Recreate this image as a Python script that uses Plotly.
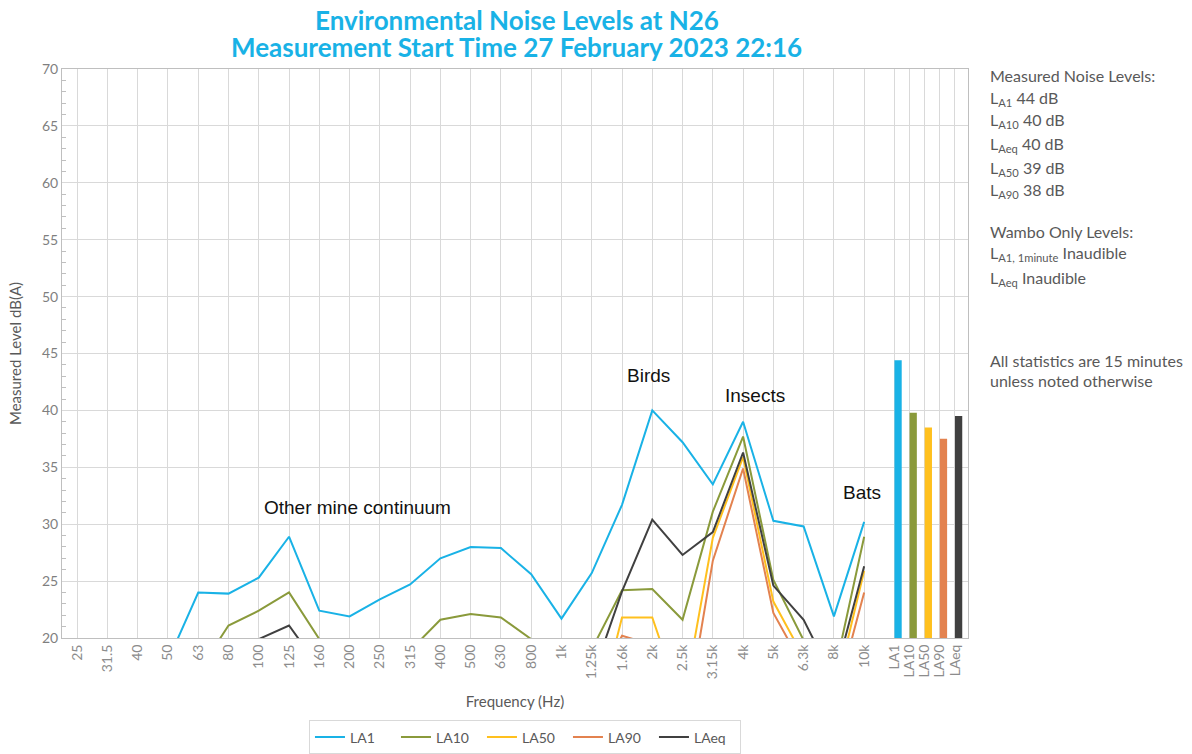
import plotly.graph_objects as go

# frequency bands (1/3 octave) and the overall statistics shown as bars
freq_labels = ["25", "31.5", "40", "50", "63", "80", "100", "125", "160", "200",
               "250", "315", "400", "500", "630", "800", "1k", "1.25k", "1.6k",
               "2k", "2.5k", "3.15k", "4k", "5k", "6.3k", "8k", "10k"]
stat_labels = ["LA1", "LA10", "LA50", "LA90", "LAeq"]

la1 = [15.0, 15.5, 16.0, 18.0, 24.0, 23.9, 25.3, 28.9, 22.4, 21.9, 23.4, 24.7, 27.0,
       28.0, 27.9, 25.6, 21.7, 25.7, 31.7, 40.0, 37.2, 33.5, 39.0, 30.3, 29.8, 21.9, 30.2]
la10 = [12.0, 12.0, 13.0, 14.0, 17.0, 21.1, 22.4, 24.0, 19.9, 16.0, 15.0, 18.9, 21.6,
        22.1, 21.8, 19.9, 16.0, 19.0, 24.2, 24.3, 21.6, 31.1, 37.7, 25.1, 19.8, 16.7, 28.9]
la50 = [10.0, 10.0, 11.0, 12.0, 13.0, 15.0, 16.0, 17.0, 14.0, 12.0, 12.0, 13.0, 15.0,
        16.0, 15.0, 14.0, 11.0, 11.2, 21.8, 21.8, 14.0, 28.8, 35.9, 23.2, 18.3, 14.8, 25.9]
la90 = [9.0, 9.0, 10.0, 11.0, 12.0, 13.0, 14.0, 15.0, 12.0, 11.0, 11.0, 12.0, 13.0,
        14.0, 13.0, 12.0, 10.0, 15.0, 20.2, 19.4, 11.0, 26.8, 34.9, 22.2, 17.4, 14.0, 24.0]
laeq = [13.0, 13.5, 14.0, 15.0, 16.0, 17.0, 19.9, 21.1, 17.4, 16.0, 16.0, 17.0, 18.0,
        18.5, 18.0, 17.0, 15.0, 16.4, 24.1, 30.4, 27.3, 29.3, 36.3, 24.6, 21.6, 16.3, 26.3]
stat_values = [44.4, 39.8, 38.5, 37.5, 39.5]

colors = ["#19b2e6", "#8a9a3b", "#ffc01e", "#e3824f", "#404040"]
series = [la1, la10, la50, la90, laeq]

x_freq = list(range(len(freq_labels)))
x_stat = [27 + 0.5 * i for i in range(len(stat_labels))]

FONT = "Lato, 'Open Sans', sans-serif"
GREY = "#595959"
BLUE_TITLE = "#19b2e6"

fig = go.Figure()
for name, vals, col in zip(stat_labels, series, colors):
    fig.add_trace(go.Scatter(x=x_freq, y=vals, name=name, mode="lines",
                             line=dict(color=col, width=2)))

fig.add_trace(go.Bar(x=x_stat, y=stat_values, marker_color=colors, marker_line_width=0,
                     width=0.24, offset=0, showlegend=False))

# two-line title (annotations so the line gap can be kept tight)
titles = [("<b>Environmental Noise Levels at N26</b>", 1.086),
          ("<b>Measurement Start Time 27 February 2023 22:16</b>", 1.0387)]
for txt, ty in titles:
    fig.add_annotation(xref="paper", yref="paper", x=0.502, y=ty, text=txt,
                       showarrow=False, xanchor="center", yanchor="middle",
                       font=dict(family=FONT, size=26, color=BLUE_TITLE))

# labels inside the plot
notes = [("Other mine continuum", 6.1, 31.5, "left"), ("Birds", 18.86, 43.1, "center"),
         ("Insects", 22.4, 41.35, "center"), ("Bats", 25.93, 32.75, "center")]
for txt, nx, ny, anc in notes:
    fig.add_annotation(x=nx, y=ny, text=txt, showarrow=False, xanchor=anc,
                       font=dict(family="Liberation Sans, Arial", size=19, color="#111111"))

# side panel text
side = [("Measured Noise Levels:", 0.988), ("L<sub>A1</sub> 44 dB", 0.948),
        ("L<sub>A10</sub> 40 dB", 0.909), ("L<sub>Aeq</sub> 40 dB", 0.867),
        ("L<sub>A50</sub> 39 dB", 0.826), ("L<sub>A90</sub> 38 dB", 0.786),
        ("Wambo Only Levels:", 0.715), ("L<sub>A1, 1minute</sub> Inaudible", 0.675),
        ("L<sub>Aeq</sub> Inaudible", 0.631),
        ("All statistics are 15 minutes", 0.487), ("unless noted otherwise", 0.452)]
for txt, sy in side:
    fig.add_annotation(xref="paper", yref="paper", x=1.022, y=sy, text=txt,
                       showarrow=False, xanchor="left", yanchor="middle",
                       font=dict(family=FONT, size=16, color=GREY))

fig.update_layout(
    width=1192, height=754,
    margin=dict(l=62, r=224, t=69, b=116),
    paper_bgcolor="white", plot_bgcolor="white",
    font=dict(family=FONT, color=GREY),
    legend=dict(orientation="h", x=0.511, xanchor="center", xref="paper",
                y=0.0219, yanchor="middle", yref="container",
                bordercolor="#d9d9d9", borderwidth=1, font=dict(size=14, color=GREY),
                entrywidth=41),
    showlegend=True,
)

fig.update_xaxes(
    range=[-0.5, 29.43], tickmode="array", tickvals=x_freq + x_stat,
    ticktext=freq_labels + stat_labels, tickangle=-90, automargin=False,
    tickfont=dict(size=14, color="#8c8c8c"),
    showgrid=True, gridcolor="#d9d9d9", gridwidth=1,
    showline=True, linecolor="#bfbfbf", mirror=True, zeroline=False,
    title=dict(text="Frequency (Hz)", font=dict(size=15, color=GREY), standoff=18),
)
fig.update_yaxes(
    range=[20, 70], dtick=5, tickfont=dict(size=14, color="#7f7f7f"), automargin=False,
    showgrid=True, gridcolor="#d9d9d9", gridwidth=1,
    showline=True, linecolor="#bfbfbf", mirror=True, zeroline=False,
    minor=dict(ticks="inside", dtick=1, ticklen=4, tickcolor="#bfbfbf", showgrid=False),
    title=dict(text="Measured Level dB(A)", font=dict(size=15, color=GREY), standoff=16),
)

# drop the browser's default 8px body margin so the figure fills the window
fig.write_html("out.html", config={"displayModeBar": False},
               post_script="document.body.style.margin = '0';")
